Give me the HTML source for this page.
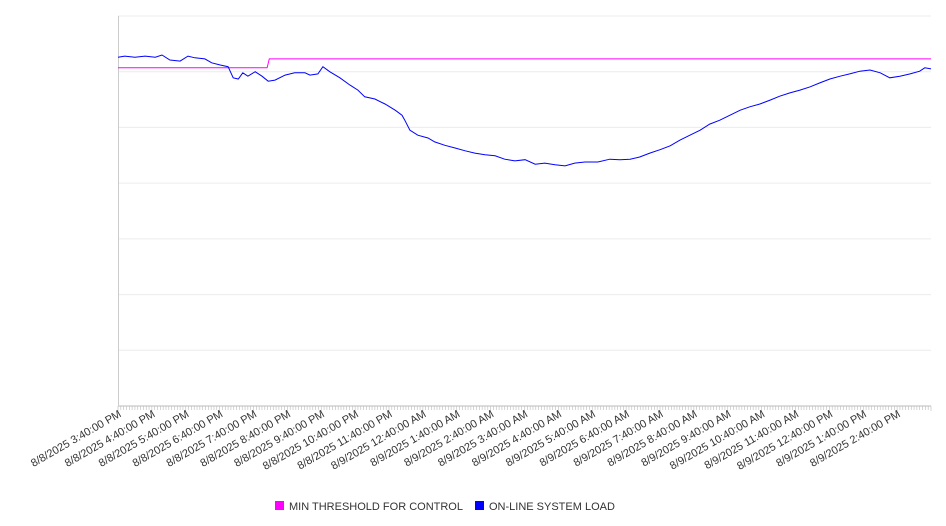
<!DOCTYPE html>
<html><head><meta charset="utf-8"><style>
html,body{margin:0;padding:0;background:#fff;}
svg{display:block;font-family:"Liberation Sans","DejaVu Sans",sans-serif;}
</style></head><body>
<svg id="chart" width="946" height="526" xmlns="http://www.w3.org/2000/svg">
<g id="grid"></g>
<g id="axes"></g>
<g id="series"></g>
<g id="legend">
  <rect x="275" y="501" width="9" height="9" fill="#ff00ff"/>
  <text x="289" y="510" font-size="11" fill="#333">MIN THRESHOLD FOR CONTROL</text>
  <rect x="475" y="501" width="9" height="9" fill="#0000ff"/>
  <text x="489" y="510" font-size="11" fill="#333">ON-LINE SYSTEM LOAD</text>
</g>
</svg>
<script>
const tickLabels = ["8/8/2025 3:40:00 PM","8/8/2025 4:40:00 PM","8/8/2025 5:40:00 PM","8/8/2025 6:40:00 PM","8/8/2025 7:40:00 PM","8/8/2025 8:40:00 PM","8/8/2025 9:40:00 PM","8/8/2025 10:40:00 PM","8/8/2025 11:40:00 PM","8/9/2025 12:40:00 AM","8/9/2025 1:40:00 AM","8/9/2025 2:40:00 AM","8/9/2025 3:40:00 AM","8/9/2025 4:40:00 AM","8/9/2025 5:40:00 AM","8/9/2025 6:40:00 AM","8/9/2025 7:40:00 AM","8/9/2025 8:40:00 AM","8/9/2025 9:40:00 AM","8/9/2025 10:40:00 AM","8/9/2025 11:40:00 AM","8/9/2025 12:40:00 PM","8/9/2025 1:40:00 PM","8/9/2025 2:40:00 PM"];
const loadMinutes = [0,12,30,48,66,78,92,110,124,136,154,166,181,195,204,213,221,230,243,255,266,278,296,313,331,340,354,363,375,393,411,425,437,455,473,491,503,508,517,531,549,561,579,597,615,632,650,668,685,703,721,739,756,774,792,809,827,850,871,889,907,924,942,960,978,995,1013,1031,1048,1066,1084,1102,1119,1137,1155,1172,1190,1208,1226,1243,1261,1279,1296,1314,1332,1350,1367,1385,1403,1420,1429,1440];
const loadValues = [626,628,626,628,626,630,621,619,628,625,623,616,612,609,589,587,598,592,600,592,583,585,594,598,598,594,596,609,600,589,576,567,555,551,542,531,522,513,495,486,481,474,468,463,458,454,451,449,443,440,442,434,436,433,431,436,438,438,443,442,443,447,454,460,467,477,486,495,506,513,522,531,537,542,549,556,562,567,573,580,587,592,596,601,603,598,589,592,596,601,607,605];
const thresholdMinutes = [0,264,268,1440];
const thresholdValues = [607,607,623,623];
const yGridValues = [0,100,200,300,400,500,600,700];

const NS="http://www.w3.org/2000/svg";
const L=118,R=931,T=16,B=406;
const X=m=>L+(R-L)*m/1440;
const Y=v=>B-(B-T)*v/700;
function mk(tag,attrs,parent){const e=document.createElementNS(NS,tag);for(const k in attrs)e.setAttribute(k,attrs[k]);parent.appendChild(e);return e;}
const grid=document.getElementById('grid'),axes=document.getElementById('axes'),series=document.getElementById('series');
yGridValues.forEach(v=>{
  const l=mk('line',{x1:L,x2:R,y1:Y(v),y2:Y(v),stroke:v===0?'#bbb':'#ececec','stroke-width':1},grid);
  
  
});
const ya=mk('line',{x1:L+0.5,x2:L+0.5,y1:T,y2:B,stroke:'#ccc'},axes);


for(let m=0;m<=1440;m+=5){
  const t=mk('line',{x1:X(m),x2:X(m),y1:B,y2:B+(m%60===0?5:4),stroke:'#bbb','stroke-width':0.6},axes);
  
  
}
tickLabels.forEach((s,i)=>{
  const x=X(i*60)+4,y=416;
  const t=mk('text',{x:x,y:y,'text-anchor':'end','font-size':'11',fill:'#333',transform:`rotate(-30 ${x} ${y})`},axes);
  t.textContent=s;
  
  
});
function path(ms,vs,color,name){
  const d=ms.map((m,i)=>(i?'L':'M')+X(m).toFixed(1)+','+Y(vs[i]).toFixed(1)).join('');
  const p=mk('path',{d:d,fill:'none',stroke:color,'stroke-width':1},series);
  
  
}
path(thresholdMinutes,thresholdValues,'#ff00ff','threshold-line');
path(loadMinutes,loadValues,'#0000ff','system-load-line');
</script>
</body></html>
